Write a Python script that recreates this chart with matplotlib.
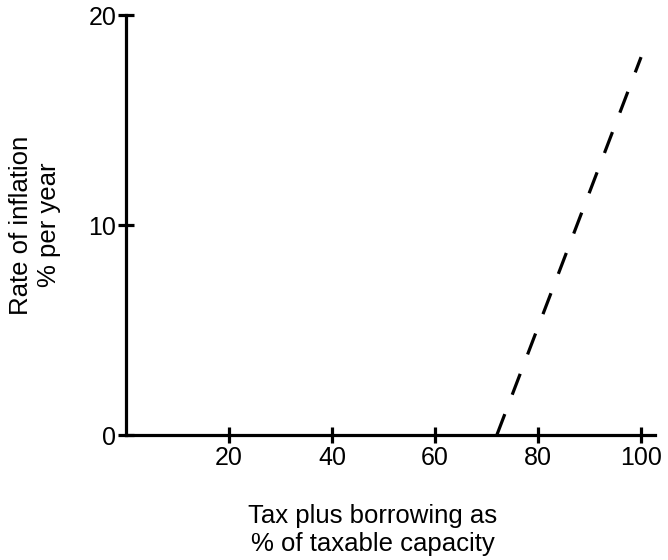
import matplotlib
matplotlib.use("Agg")
import matplotlib.pyplot as plt

plt.rcParams['font.family'] = ['Liberation Sans', 'DejaVu Sans']

# data
capacity = [72, 100]        # tax plus borrowing, % of taxable capacity
inflation = [0, 18]         # rate of inflation, % per year
x_ticks = [20, 40, 60, 80, 100]
y_ticks = [0, 10, 20]

fig = plt.figure(figsize=(6.68, 5.60), dpi=100)
ax = fig.add_axes([0.1886, 0.2232, 0.7919, 0.7498])

ax.plot(capacity, inflation, color='black', lw=2.3, dashes=(7, 6.5))

ax.set_xlim(0, 102.7)
ax.set_ylim(0, 20)
ax.set_xticks(x_ticks)
ax.set_yticks(y_ticks)

for side in ['top', 'right']:
    ax.spines[side].set_visible(False)
for side in ['left', 'bottom']:
    ax.spines[side].set_linewidth(2.3)

ax.tick_params(direction='inout', length=12, width=2.3, labelsize=18, pad=1)
ax.tick_params(axis='x', pad=2)

ax.set_xlabel('Tax plus borrowing as\n% of taxable capacity', fontsize=18.5)
ax.xaxis.set_label_coords(0.467, -0.165)
ax.set_ylabel('Rate of inflation\n% per year', fontsize=18.5, labelpad=20)

fig.savefig('out.png', dpi=100)
